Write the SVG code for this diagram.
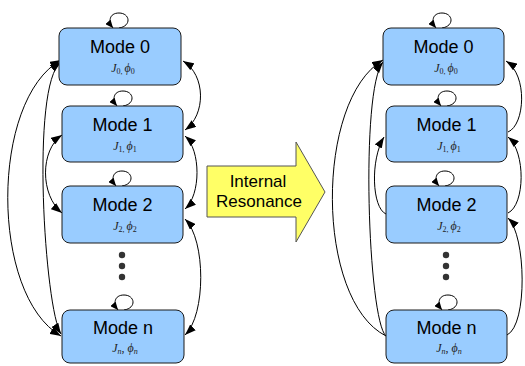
<svg xmlns="http://www.w3.org/2000/svg" width="525" height="366" viewBox="0 0 525 366">
  <style>
    .box { fill: #99ccff; stroke: #1a1a1a; stroke-width: 1; }
    .title { font-family: "Liberation Sans", Arial, sans-serif; font-size: 18px; fill: #000; text-anchor: middle; }
    .sub { font-family: "Liberation Serif", "Times New Roman", serif; font-size: 12px; font-style: italic; fill: #222; text-anchor: middle; }
    .idx { font-size: 8px; font-style: normal; }
    .idxi { font-size: 8px; font-style: italic; }
    .sep { font-style: normal; }
    .link { fill: none; stroke: #000; stroke-width: 1; }
    .both { marker-start: url(#ah); marker-end: url(#ah); }
    .one { marker-end: url(#ah); }
    .self { marker-end: url(#ahs); }
    .dot { fill: #333; }
    .bigarrow { fill: #ffff66; stroke: #555; stroke-width: 1; }
    .arrowtext { font-family: "Liberation Sans", Arial, sans-serif; font-size: 17px; fill: #000; text-anchor: middle; }
  </style>
  <defs>
    <marker id="ah" viewBox="0 0 11 8" refX="11" refY="4" markerWidth="11" markerHeight="8" markerUnits="userSpaceOnUse" orient="auto-start-reverse">
      <path d="M0,0 L11,4 L0,8 z" fill="#000"/>
    </marker>
    <marker id="ahs" viewBox="0 0 8 7" refX="8" refY="3.5" markerWidth="8" markerHeight="7" markerUnits="userSpaceOnUse" orient="auto">
      <path d="M0,0 L8,3.5 L0,7 z" fill="#000"/>
    </marker>
  </defs>

  <!-- connectors -->
  <g id="connectors">
    <!-- before: left side -->
    <path class="link both" d="M61,60 C-10,100 -10,295 61,336"/>
    <path class="link both" d="M61,62 C30,85 45,310 61,334"/>
    <path class="link both" d="M62,135 C40,150 40,195 62,213"/>
    <!-- before: right side -->
    <path class="link both" d="M183,61 C206,75 206,115 185,130"/>
    <path class="link both" d="M185,136 C201,150 201,195 185,209"/>
    <path class="link both" d="M185,219 C206,240 206,315 185,335"/>
    <!-- before: self loops -->
    <path class="link self" transform="translate(118,28)" d="M1,0 C14,-2 12,-15 1,-15 C-9,-15 -10,-6 -5,0"/>
    <path class="link self" transform="translate(122,106)" d="M1,0 C14,-2 12,-15 1,-15 C-9,-15 -10,-6 -5,0"/>
    <path class="link self" transform="translate(121,186)" d="M1,0 C14,-2 12,-15 1,-15 C-9,-15 -10,-6 -5,0"/>
    <path class="link self" transform="translate(123,310)" d="M1,0 C14,-2 12,-15 1,-15 C-9,-15 -10,-6 -5,0"/>

    <!-- after: left side -->
    <path class="link one" d="M386,336 C315,300 315,100 383,60"/>
    <path class="link one" d="M386,336 C368,320 360,90 383,62"/>
    <path class="link one" d="M386,214 C372,208 370,160 384,137"/>
    <!-- after: right side -->
    <path class="link one" d="M508,132 C525,125 528,75 506,61"/>
    <path class="link one" d="M508,213 C525,205 526,152 508,137"/>
    <path class="link one" d="M507,335 C528,325 526,235 508,218"/>
    <!-- after: self loops -->
    <path class="link self" transform="translate(441,28)" d="M1,0 C14,-2 12,-15 1,-15 C-9,-15 -10,-6 -5,0"/>
    <path class="link self" transform="translate(446,106)" d="M1,0 C14,-2 12,-15 1,-15 C-9,-15 -10,-6 -5,0"/>
    <path class="link self" transform="translate(444,186)" d="M1,0 C14,-2 12,-15 1,-15 C-9,-15 -10,-6 -5,0"/>
    <path class="link self" transform="translate(447,310)" d="M1,0 C14,-2 12,-15 1,-15 C-9,-15 -10,-6 -5,0"/>
  </g>

  <!-- before: modes -->
  <g id="before-mode0">
    <rect class="box" x="59" y="28" width="122" height="57" rx="8" ry="8"/>
    <text class="title" x="120" y="53">Mode 0</text>
    <text class="sub" x="123" y="72">J<tspan class="idx" dy="2">0,</tspan><tspan dx="2" dy="-2">ϕ</tspan><tspan class="idx" dy="2">0</tspan></text>
  </g>
  <g id="before-mode1">
    <rect class="box" x="62" y="106" width="121" height="56" rx="8" ry="8"/>
    <text class="title" x="122.5" y="131">Mode 1</text>
    <text class="sub" x="125" y="150">J<tspan class="idx" dy="2">1,</tspan><tspan dx="2" dy="-2">ϕ</tspan><tspan class="idx" dy="2">1</tspan></text>
  </g>
  <g id="before-mode2">
    <rect class="box" x="62" y="186" width="121" height="57" rx="8" ry="8"/>
    <text class="title" x="122.5" y="211">Mode 2</text>
    <text class="sub" x="125" y="230">J<tspan class="idx" dy="2">2,</tspan><tspan dx="2" dy="-2">ϕ</tspan><tspan class="idx" dy="2">2</tspan></text>
  </g>
  <g id="before-dots">
    <circle class="dot" cx="122" cy="255" r="3.2"/>
    <circle class="dot" cx="122" cy="266" r="3.2"/>
    <circle class="dot" cx="122" cy="277" r="3.2"/>
  </g>
  <g id="before-moden">
    <rect class="box" x="62" y="310" width="122" height="53" rx="8" ry="8"/>
    <text class="title" x="123" y="334">Mode n</text>
    <text class="sub" x="125" y="352">J<tspan class="idxi" dy="2">n</tspan><tspan class="sep" dy="-2">, </tspan><tspan>ϕ</tspan><tspan class="idxi" dy="2">n</tspan></text>
  </g>

  <!-- transition arrow -->
  <g id="internal-resonance">
    <polygon class="bigarrow" points="207,166 296,166 296,142 325,192 296,242 296,217 207,217"/>
    <text class="arrowtext" x="258" y="187">Internal</text>
    <text class="arrowtext" x="259" y="207">Resonance</text>
  </g>

  <!-- after: modes -->
  <g id="after-mode0">
    <rect class="box" x="383" y="28" width="121" height="57" rx="8" ry="8"/>
    <text class="title" x="443.5" y="53">Mode 0</text>
    <text class="sub" x="446" y="72">J<tspan class="idx" dy="2">0,</tspan><tspan dx="2" dy="-2">ϕ</tspan><tspan class="idx" dy="2">0</tspan></text>
  </g>
  <g id="after-mode1">
    <rect class="box" x="386" y="106" width="121" height="56" rx="8" ry="8"/>
    <text class="title" x="446.5" y="131">Mode 1</text>
    <text class="sub" x="449" y="150">J<tspan class="idx" dy="2">1,</tspan><tspan dx="2" dy="-2">ϕ</tspan><tspan class="idx" dy="2">1</tspan></text>
  </g>
  <g id="after-mode2">
    <rect class="box" x="386" y="186" width="121" height="57" rx="8" ry="8"/>
    <text class="title" x="446.5" y="211">Mode 2</text>
    <text class="sub" x="449" y="230">J<tspan class="idx" dy="2">2,</tspan><tspan dx="2" dy="-2">ϕ</tspan><tspan class="idx" dy="2">2</tspan></text>
  </g>
  <g id="after-dots">
    <circle class="dot" cx="446" cy="255" r="3.2"/>
    <circle class="dot" cx="446" cy="266" r="3.2"/>
    <circle class="dot" cx="446" cy="277" r="3.2"/>
  </g>
  <g id="after-moden">
    <rect class="box" x="386" y="310" width="121" height="53" rx="8" ry="8"/>
    <text class="title" x="446.5" y="334">Mode n</text>
    <text class="sub" x="449" y="352">J<tspan class="idxi" dy="2">n</tspan><tspan class="sep" dy="-2">, </tspan><tspan>ϕ</tspan><tspan class="idxi" dy="2">n</tspan></text>
  </g>
</svg>
